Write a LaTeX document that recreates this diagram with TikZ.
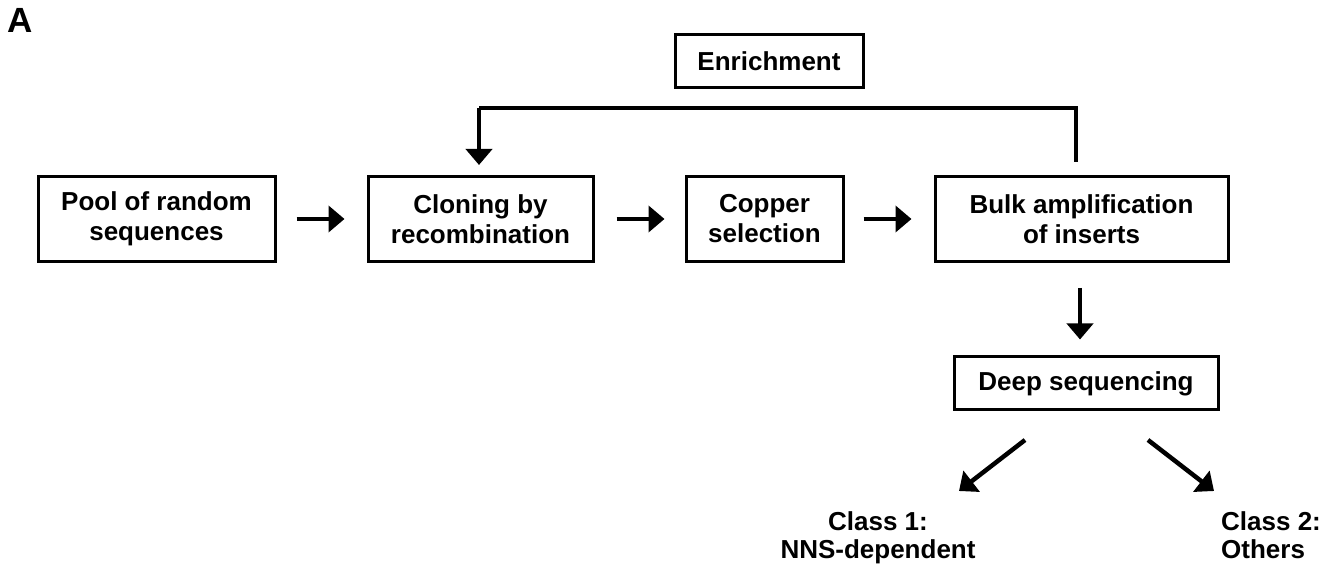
\documentclass[tikz,border=0pt]{standalone}
\usepackage{fontspec}
\setmainfont{Liberation Sans}
\usetikzlibrary{arrows.meta}
\begin{document}
\begin{tikzpicture}[x=1pt,y=1pt,
  box/.style={draw, line width=3pt, align=center, inner sep=0pt,
    font=\fontsize{26}{30}\selectfont\bfseries},
  bigbox/.style={box, minimum height=85pt},
  smallbox/.style={box, minimum height=53pt},
  arr/.style={line width=4.5pt, -{Triangle[length=16pt,width=26pt]}},
  fbline/.style={line width=4pt, line join=miter},
  lbl/.style={inner sep=0pt, font=\fontsize{26}{28}\selectfont\bfseries}]
\useasboundingbox (0,0) rectangle (1338,567);

\node[anchor=base west, inner sep=0pt, font=\fontsize{35}{40}\selectfont\bfseries] (lab) at (7,534) {A};

\node[smallbox, minimum width=188pt] (enr) at (769,505.5) {Enrichment};

\node[bigbox, minimum width=237pt] (pool) at (156.5,348) {Pool of random\\sequences};
\node[bigbox, minimum width=225pt] (clone) at (480.5,348) {Cloning by\\recombination};
\node[bigbox, minimum width=157pt] (copper) at (764.5,348) {Copper\\selection};
\node[bigbox, minimum width=293pt] (bulk) at (1081.5,348) {Bulk amplification\\of inserts};

\node[smallbox, minimum width=264pt] (deep) at (1086,183.5) {Deep sequencing};

\node[lbl, align=center] (c1) at (878,29) {Class 1:\\NNS-dependent};
\node[lbl, align=left, anchor=west] (c2) at (1221,29) {Class 2:\\Others\vphantom{p}};

% main chain
\draw[arr, shorten <=20pt, shorten >=22pt] (pool) -- (clone);
\draw[arr, shorten <=22pt, shorten >=20pt] (clone) -- (copper);
\draw[arr, shorten <=19pt, shorten >=22pt] (copper) -- (bulk);

% feedback loop
\coordinate (fbR) at (1076,459);
\coordinate (fbL) at (479,459);
\draw[fbline, shorten <=13pt] (bulk.north -| fbR) -- (fbR) -- (fbL);
\draw[arr, shorten >=10pt] (fbL) -- (clone.north -| fbL);

% down to deep sequencing
\draw[arr, shorten <=25pt, shorten >=16pt] (bulk.south -| 1080,0) -- (deep.north -| 1080,0);

% split to classes
\coordinate (dA1) at (1025,127);
\coordinate (dA2) at (959,76);
\coordinate (dB1) at (1148,127);
\coordinate (dB2) at (1214,76);
\draw[arr] (dA1) -- (dA2);
\draw[arr] (dB1) -- (dB2);
\end{tikzpicture}
\end{document}
